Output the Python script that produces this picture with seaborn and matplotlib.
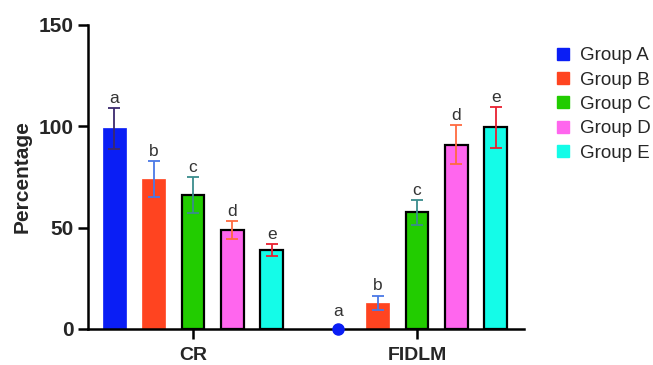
import numpy as np
import pandas as pd
import seaborn as sns
import matplotlib.pyplot as plt
from matplotlib.lines import Line2D

# Data.
categories = ['CR', 'FIDLM']
groups = ['Group A', 'Group B', 'Group C', 'Group D', 'Group E']
cr_means = [99, 74, 66, 49, 39]
cr_errs = [10, 9, 9, 4.5, 3]
fidlm_means = [0, 13, 57.5, 91, 99.5]
fidlm_errs = [0, 3.5, 6, 9.5, 10]
letters = ['a', 'b', 'c', 'd', 'e']

bar_colors = ['#0a1ef5', '#ff4420', '#22cc00', '#ff66ee', '#14fce8']
err_colors = ['#3b2a6e', '#4a78e6', '#3a8c8c', '#ff6a40', '#e82030']


def main():
    rows = []
    for cat, means, errs in zip(categories, [cr_means, fidlm_means], [cr_errs, fidlm_errs]):
        for g, m, e in zip(groups, means, errs):
            rows.append({'category': cat, 'group': g, 'value': m, 'err': e})
    df = pd.DataFrame(rows)

    sns.set_style('ticks')
    plt.rcParams['font.family'] = ['Liberation Sans', 'DejaVu Sans']

    fig = plt.figure(figsize=(6.53, 3.65), dpi=100)
    ax = fig.add_axes([88 / 653, 1 - 329 / 365, (524 - 88) / 653, (329 - 25) / 365])

    sns.barplot(data=df, x='category', y='value', hue='group', palette=bar_colors,
                width=0.88, gap=0.42, errorbar=None, legend=False, saturation=1, ax=ax)

    # Error bars, letters and edges per group.
    bar_containers = list(ax.containers)
    for i, container in enumerate(bar_containers):
        sub = df[df['group'] == groups[i]]
        for bar, (_, r) in zip(container, sub.iterrows()):
            x = bar.get_x() + bar.get_width() / 2
            if i < 2:
                bar.set_edgecolor(bar_colors[i])
                bar.set_linewidth(0.5)
            else:
                bar.set_edgecolor('black')
                bar.set_linewidth(1.6)
            if r['value'] == 0:
                # zero-height bar is shown as a dot on the axis
                ax.plot(x, 0, 'o', color=bar_colors[i], markersize=8, clip_on=False, zorder=5)
                top = 4
            else:
                ax.errorbar(x, r['value'], yerr=r['err'], color=err_colors[i], capsize=4.5,
                            elinewidth=1.3, capthick=1.3, zorder=4)
                top = r['value'] + r['err']
            ax.text(x, top + 2.5, letters[i], ha='center', va='baseline',
                    fontsize=12.5, color='#333333')

    ax.set_xlim(-0.469, 1.478)
    ax.set_ylim(0, 150)
    ax.set_yticks([0, 50, 100, 150])
    ax.set_xlabel('')
    ax.set_ylabel('Percentage', fontsize=15, fontweight='bold', labelpad=5)
    sns.despine(ax=ax)
    for s in ['left', 'bottom']:
        ax.spines[s].set_linewidth(1.8)
        ax.spines[s].set_color('black')
    ax.tick_params(axis='both', width=1.8, length=7, color='black')
    ax.tick_params(axis='x', pad=6)
    for lbl in ax.get_yticklabels():
        lbl.set_fontsize(15)
        lbl.set_fontweight('bold')
    for lbl in ax.get_xticklabels():
        lbl.set_fontsize(14)
        lbl.set_fontweight('bold')

    handles = [Line2D([], [], marker='s', linestyle='', markersize=9, color=c) for c in bar_colors]
    fig.legend(handles, groups, loc='upper left', bbox_to_anchor=(546 / 653, 1 - 38 / 365),
               frameon=False, handlelength=0.8, handletextpad=0.5, labelspacing=0.38,
               fontsize=13.5, borderpad=0)

    plt.savefig('out.png', dpi=100)
    plt.close()


if __name__ == '__main__':
    main()
